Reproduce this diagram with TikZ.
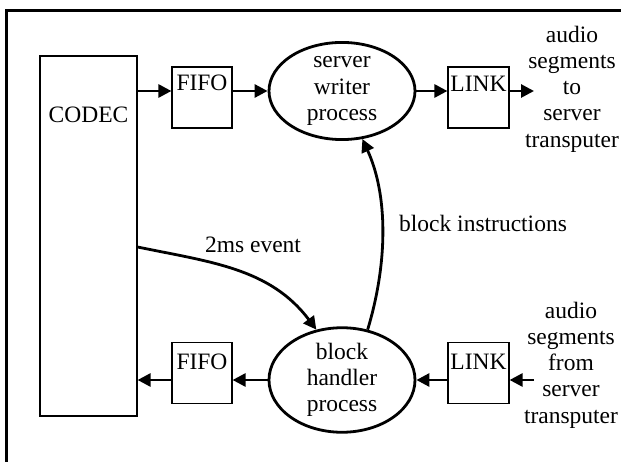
\documentclass[tikz,border=0pt]{standalone}
\usepackage{fontspec}
\setmainfont{Liberation Serif}
\usetikzlibrary{arrows.meta,shapes.geometric}

\begin{document}
\begin{tikzpicture}[x=1pt,y=-1pt,
  every node/.style={font=\fontsize{23.5}{26.3}\selectfont},
  box/.style={draw,line width=1.2pt,rectangle,inner sep=0pt},
  proc/.style={draw,line width=2.8pt,ellipse,inner sep=0pt,
               minimum width=146pt,minimum height=96pt,align=center},
  txt/.style={inner sep=0pt,align=center},
  flow/.style={line width=2.8pt,-{Triangle[length=13pt,width=13pt]}}]

\useasboundingbox (0,0) rectangle (621,462);

% open frame along the top and left
\draw[line width=3pt] (6.5,462) -- (6.5,10.5) -- (621,10.5);

% codec block
\node[box,minimum width=97pt,minimum height=360pt] (codec) at (88.5,236) {};
\node[txt] (codectext) at (88.5,115) {CODEC};

% upper row: codec -> fifo -> writer -> link
\node[box,minimum width=60pt,minimum height=61pt] (fifoA) at (202,97.5) {};
\node[txt] (fifoAtext) at (202,83) {FIFO};
\node[proc] (writer) at (342,91) {server\\writer\\process};
\node[box,minimum width=61pt,minimum height=61pt] (linkA) at (478.5,97.5) {};
\node[txt] (linkAtext) at (478.5,84) {LINK};
\node[txt] (outtext) at (572,89) {audio\\segments\\to\\server\\transputer};
\coordinate (outend) at (534,91);
\coordinate (toprow) at (0,91);

% lower row: link -> handler -> fifo -> codec
\node[box,minimum width=60pt,minimum height=61pt] (fifoB) at (202,373) {};
\node[txt] (fifoBtext) at (202,362) {FIFO};
\node[proc] (handler) at (342,380) {block\\handler\\process};
\node[box,minimum width=61pt,minimum height=61pt] (linkB) at (478.5,373) {};
\node[txt] (linkBtext) at (478.5,362) {LINK};
\node[txt] (intext) at (571,365) {audio\\segments\\from\\server\\transputer};
\coordinate (inend) at (534,380);
\coordinate (botrow) at (0,380);

% labels of the curved connectors
\node[txt] (evtext) at (253,245) {2ms event};
\node[txt] (instext) at (483,223) {block instructions};

% upper data path
\draw[flow] (codec.east |- toprow) -- (fifoA.west |- toprow);
\draw[flow] (fifoA.east |- toprow) -- (writer.west);
\draw[flow] (writer.east) -- (linkA.west |- toprow);
\draw[flow] (linkA.east |- toprow) -- (outend);

% lower data path
\draw[flow] (inend) -- (linkB.east |- botrow);
\draw[flow] (linkB.west |- botrow) -- (handler.east);
\draw[flow] (handler.west) -- (fifoB.east |- botrow);
\draw[flow] (fifoB.west |- botrow) -- (codec.east |- botrow);

% control connectors
\draw[flow] (codec.east |- 0,247) .. controls (210,262) and (270,268) .. (handler.117);
\draw[flow] (handler.63) .. controls (388,262) and (388,195) .. (writer.-67);

\end{tikzpicture}
\end{document}
